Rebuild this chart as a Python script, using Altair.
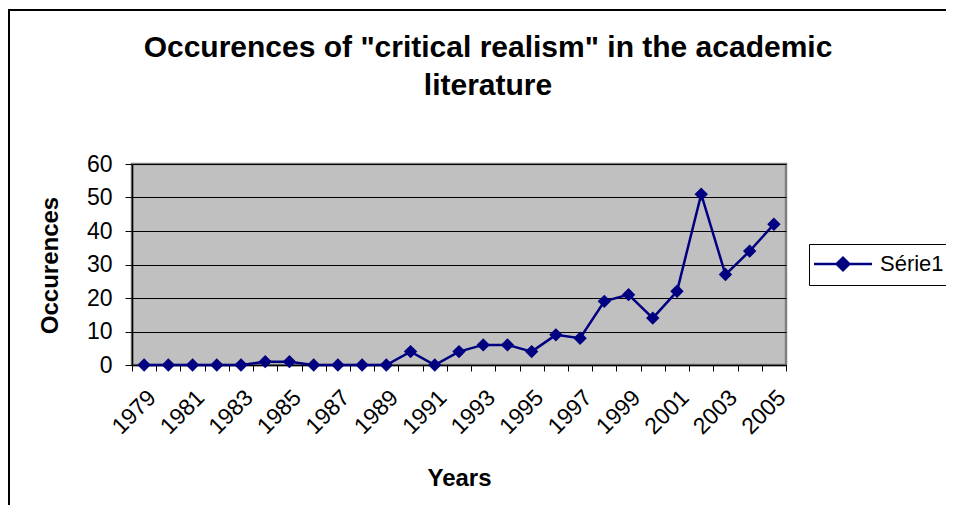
import altair as alt
import pandas as pd

years = list(range(1979, 2006))
occurrences = [0, 0, 0, 0, 0, 1, 1, 0, 0, 0, 0, 4, 0, 4, 6, 6, 4, 9, 8,
               19, 21, 14, 22, 51, 27, 34, 42]
series_name = "Série1"

df = pd.DataFrame({"Years": years, "Occurences": occurrences, "series": series_name})

FONT = "Liberation Sans"
NAVY = "#000080"

x_enc = alt.X(
    "Years:O",
    title="Years",
    scale=alt.Scale(paddingInner=0, paddingOuter=0),
    axis=alt.Axis(
        labelAngle=-45,
        labelAlign="right",
        labelBaseline="top",
        labelExpr="datum.value % 2 == 1 ? datum.label + '\u00a0\u00a0' : ''",
        labelOverlap=False,
        labelPadding=15,
        labelFontSize=23,
        tickBand="extent",
        tickSize=6,
        tickColor="black",
        domainColor="black",
        domainWidth=1.5,
        titleFontSize=24,
        titleFontWeight="bold",
        titleBaseline="alphabetic",
        titleY=120,
        grid=False,
    ),
)
y_enc = alt.Y(
    "Occurences:Q",
    title="Occurences",
    scale=alt.Scale(domain=[0, 60], nice=False),
    axis=alt.Axis(
        values=[0, 10, 20, 30, 40, 50, 60],
        labelFontSize=23,
        labelPadding=13,
        tickSize=7,
        tickColor="black",
        domainColor="black",
        domainWidth=1.5,
        grid=True,
        gridColor="black",
        gridWidth=1,
        titleFontSize=24,
        titleFontWeight="bold",
        titleX=-70,
        titleY=101,
        titleAlign="center",
        titleBaseline="bottom",
    ),
)

color_enc = alt.Color(
    "series:N",
    scale=alt.Scale(range=[NAVY]),
    legend=alt.Legend(
        title=None,
        orient="none",
        legendX=677,
        legendY=80,
        padding=9,
        strokeColor="black",
        fillColor="white",
        labelFontSize=22,
        labelFont=FONT,
        labelOffset=26,
        symbolType="M-3,0H3M-0.65,0L0,-0.65L0.65,0L0,0.65Z",
        symbolSize=374,
        symbolOffset=14,
        symbolStrokeWidth=2.5,
        symbolFillColor=NAVY,
        symbolStrokeColor=NAVY,
    ),
)

frame = alt.Chart(df).mark_rect(
    fill=None, stroke="black", strokeWidth=2, clip=False
).encode(
    x=alt.value(-123), x2=alt.value(1000), y=alt.value(-154), y2=alt.value(600)
)

line = alt.Chart(df).mark_line(color=NAVY, strokeWidth=2.5).encode(x=x_enc, y=y_enc)
points = alt.Chart(df).mark_point(
    shape="diamond", filled=True, size=180, opacity=1
).encode(x=x_enc, y=y_enc, color=color_enc)

chart = alt.layer(line, points, frame).properties(
    width=654,
    height=201,
    padding={"left": 124, "top": 156, "right": 160, "bottom": 140},
    autosize=alt.AutoSizeParams(type="none"),
    title=alt.Title(
        text=['Occurences of "critical realism" in the academic', "literature"],
        fontSize=30,
        fontWeight="bold",
        font=FONT,
        lineHeight=38,
        anchor="middle",
        frame="group",
        dx=29,
        offset=-92,
        color="black",
    ),
).configure(
    font=FONT,
    background="white",
).configure_view(
    fill="#C0C0C0", stroke="#808080", strokeWidth=2.5
).configure_axis(
    labelFont=FONT, titleFont=FONT, labelColor="black", titleColor="black"
)

chart.save("out.html", embed_options={"renderer": "svg", "actions": False})
